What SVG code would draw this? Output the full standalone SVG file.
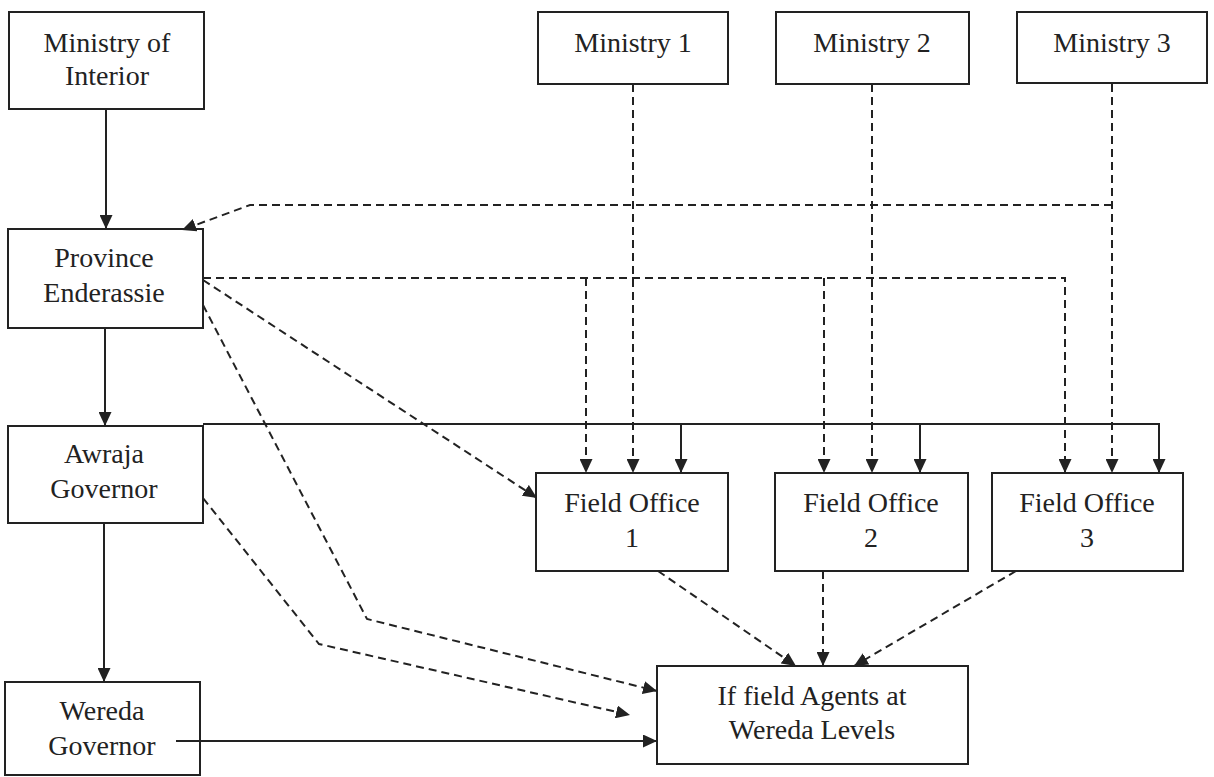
<svg xmlns="http://www.w3.org/2000/svg" width="1214" height="777" viewBox="0 0 1214 777">
<style>
.box{fill:#fff;stroke:#222;stroke-width:2}
.t{font-family:"Liberation Serif","Times New Roman",serif;font-size:28px;fill:#222;text-anchor:middle}
.s{fill:none;stroke:#222;stroke-width:2}
.d{fill:none;stroke:#222;stroke-width:2;stroke-dasharray:8 5}
</style>
<defs>
<marker id="ah" markerUnits="userSpaceOnUse" markerWidth="14" markerHeight="13" refX="14" refY="6.5" orient="auto">
<path d="M0,0 L14,6.5 L0,13 z" fill="#222"/>
</marker>
</defs>
<rect width="1214" height="777" fill="#fff"/>
<g id="moi"><rect class="box" x="9" y="12" width="195" height="97"/><text class="t" x="107" y="52">Ministry of</text><text class="t" x="107" y="85">Interior</text></g>
<g id="m1"><rect class="box" x="538" y="12" width="190" height="72"/><text class="t" x="633" y="52">Ministry 1</text></g>
<g id="m2"><rect class="box" x="776" y="12" width="193" height="72"/><text class="t" x="872" y="52">Ministry 2</text></g>
<g id="m3"><rect class="box" x="1017" y="12" width="190" height="71"/><text class="t" x="1112" y="52">Ministry 3</text></g>
<g id="province"><rect class="box" x="8" y="229" width="195" height="99"/><text class="t" x="104" y="267">Province</text><text class="t" x="104" y="302">Enderassie</text></g>
<g id="awraja"><rect class="box" x="8" y="426" width="195" height="97"/><text class="t" x="104" y="463">Awraja</text><text class="t" x="104" y="498">Governor</text></g>
<g id="wereda"><rect class="box" x="5" y="682" width="195" height="93"/><text class="t" x="102" y="720">Wereda</text><text class="t" x="102" y="755">Governor</text></g>
<g id="fo1"><rect class="box" x="536" y="473" width="192" height="98"/><text class="t" x="632" y="512">Field Office</text><text class="t" x="632" y="547">1</text></g>
<g id="fo2"><rect class="box" x="775" y="473" width="193" height="98"/><text class="t" x="871" y="512">Field Office</text><text class="t" x="871" y="547">2</text></g>
<g id="fo3"><rect class="box" x="992" y="473" width="191" height="98"/><text class="t" x="1087" y="512">Field Office</text><text class="t" x="1087" y="547">3</text></g>
<g id="agents"><rect class="box" x="657" y="666" width="311" height="98"/><text class="t" x="812" y="705">If field Agents at</text><text class="t" x="812" y="739">Wereda Levels</text></g>
<g id="connectors">
<line class="s" x1="106" y1="109" x2="106" y2="229" marker-end="url(#ah)"/>
<line class="s" x1="105" y1="328" x2="105" y2="426" marker-end="url(#ah)"/>
<line class="s" x1="104" y1="523" x2="104" y2="682" marker-end="url(#ah)"/>
<line class="s" x1="176" y1="741" x2="657" y2="741" marker-end="url(#ah)"/>
<polyline class="s" points="203,424 1159,424 1159,473" marker-end="url(#ah)"/>
<line class="s" x1="681" y1="424" x2="681" y2="473" marker-end="url(#ah)"/>
<line class="s" x1="920" y1="424" x2="920" y2="473" marker-end="url(#ah)"/>
<line class="d" x1="633" y1="84" x2="633" y2="473" marker-end="url(#ah)"/>
<line class="d" x1="872" y1="84" x2="872" y2="473" marker-end="url(#ah)"/>
<line class="d" x1="1112" y1="84" x2="1112" y2="473" marker-end="url(#ah)"/>
<polyline class="d" points="1112,205 250,205 182,230" marker-end="url(#ah)"/>
<polyline class="d" points="203,278 1065,278 1065,473" marker-end="url(#ah)"/>
<line class="d" x1="586" y1="278" x2="586" y2="473" marker-end="url(#ah)"/>
<line class="d" x1="824" y1="278" x2="824" y2="473" marker-end="url(#ah)"/>
<line class="d" x1="203" y1="280" x2="537" y2="498" marker-end="url(#ah)"/>
<polyline class="d" points="203,305 367,619 657,691" marker-end="url(#ah)"/>
<polyline class="d" points="203,498 319,644 630,715" marker-end="url(#ah)"/>
<line class="d" x1="658" y1="571" x2="796" y2="666" marker-end="url(#ah)"/>
<line class="d" x1="823" y1="571" x2="823" y2="666" marker-end="url(#ah)"/>
<line class="d" x1="1016" y1="571" x2="854" y2="666" marker-end="url(#ah)"/>
</g>
</svg>
